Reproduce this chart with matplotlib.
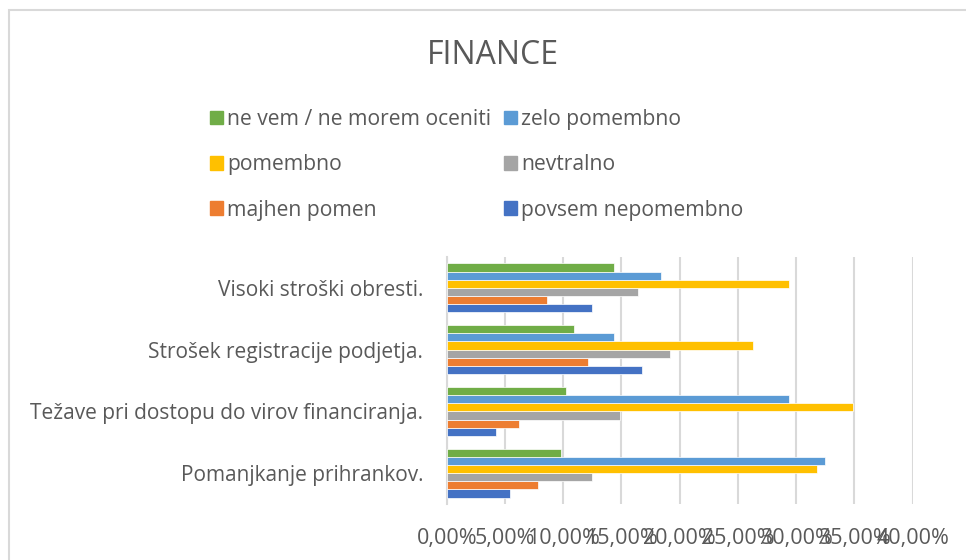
import numpy as np
import matplotlib.pyplot as plt
from matplotlib.patches import Rectangle, Patch

plt.rcParams['font.family'] = ['Open Sans', 'DejaVu Sans']

# categories, bottom to top as drawn
categories = ["Pomanjkanje prihrankov.",
              "Težave pri dostopu do virov financiranja.",
              "Strošek registracije podjetja.",
              "Visoki stroški obresti."]

# series, bottom bar of each group first (values in %)
series_names = ["povsem nepomembno", "majhen pomen", "nevtralno",
                "pomembno", "zelo pomembno", "ne vem / ne morem oceniti"]
povsem_nepomembno = [5.4, 4.2, 16.8, 12.5]
majhen_pomen = [7.8, 6.2, 12.1, 8.6]
nevtralno = [12.5, 14.9, 19.2, 16.4]
pomembno = [31.8, 34.9, 26.3, 29.4]
zelo_pomembno = [32.5, 29.4, 14.4, 18.4]
ne_vem = [9.8, 10.2, 10.9, 14.4]

series_values = [povsem_nepomembno, majhen_pomen, nevtralno,
                 pomembno, zelo_pomembno, ne_vem]
colors = ["#4472C4", "#ED7D31", "#A5A5A5", "#FFC000", "#5B9BD5", "#70AD47"]
text_col = "#595959"

fig = plt.figure(figsize=(9.66, 5.6), dpi=100)
ax = fig.add_axes([446.7 / 966, 1 - 504 / 560, 466 / 966, 247 / 560])

# chart border (right and bottom edges fall outside the picture)
fig.patches.append(Rectangle((9 / 966, -0.1), 1.2, 1 - 10 / 560 + 0.1,
                             transform=fig.transFigure, fill=False,
                             edgecolor="#d9d9d9", linewidth=1.5))

y = np.arange(len(categories))
n = len(series_values)
bh = 0.79 / n
for i, (vals, col) in enumerate(zip(series_values, colors)):
    ax.barh(y - 0.395 + bh * (i + 0.5), np.array(vals) / 100, height=bh,
            color=col, edgecolor="white", linewidth=0.5, zorder=3)

ax.set_ylim(-0.5, len(categories) - 0.5)
ax.set_xlim(0, 0.40)
ticks = np.arange(0, 0.401, 0.05)
ax.set_xticks(ticks)
ax.set_xticklabels([f"{t * 100:.2f}%".replace(".", ",") for t in ticks])
ax.set_yticks(y)
ax.set_yticklabels(categories)
ax.tick_params(axis="x", length=0, pad=17, labelsize=15.5, labelcolor=text_col)
ax.tick_params(axis="y", length=0, pad=17, labelsize=15, labelcolor=text_col)
ax.grid(axis="x", color="#d9d9d9", linewidth=1.5, zorder=0)
for s in ["top", "right", "bottom"]:
    ax.spines[s].set_visible(False)
ax.spines["left"].set_color("#d9d9d9")
ax.spines["left"].set_linewidth(1.5)

fig.text(493 / 966, 1 - 55 / 560, "FINANCE", ha="center", va="center",
         fontsize=23, color=text_col)

# legend: two columns, filled column-wise
order = [5, 3, 1, 4, 2, 0]
handles = [Patch(color=colors[i]) for i in order]
labels = [series_names[i] for i in order]
fig.legend(handles, labels, ncol=2, loc="upper left",
           bbox_to_anchor=(191 / 966, 1 - 90 / 560), frameon=False,
           fontsize=15.2, labelcolor=text_col, handlelength=0.62,
           handleheight=0.62, handletextpad=0.2, labelspacing=1.15,
           columnspacing=0.6)

fig.savefig("out.png", dpi=100)
